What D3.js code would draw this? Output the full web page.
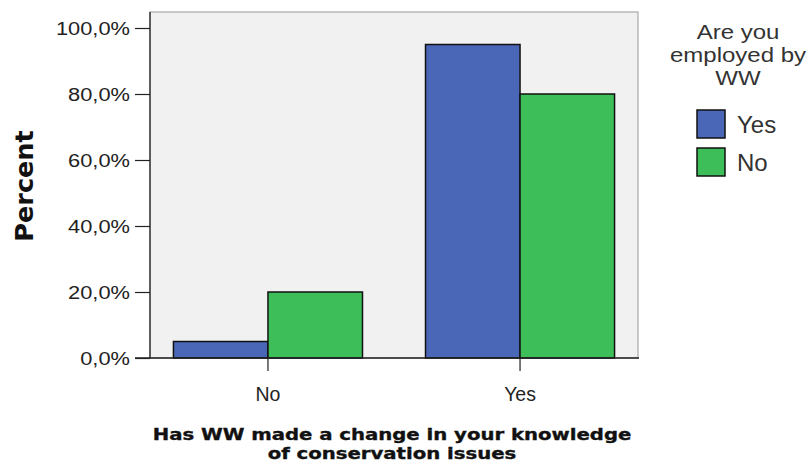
<!DOCTYPE html>
<html>
<head>
<meta charset="utf-8">
<script src="https://cdn.jsdelivr.net/npm/d3@7"></script>
<style>
  html, body { margin: 0; padding: 0; background: #ffffff; }
  svg { display: block; }
</style>
</head>
<body>
<svg id="chart" width="811" height="466"></svg>
<script>
// ---- data ----
const categories = ["No", "Yes"];                 // Has WW made a change ...
const seriesNames = ["Yes", "No"];                // Are you employed by WW
const employedYes = [5.0, 95.0];
const employedNo = [20.0, 80.0];
const yTicks = [0, 20, 40, 60, 80, 100];
const seriesColors = ["#4a66b6", "#3dbe58"];
const xTitleLines = ["Has WW made a change in your knowledge", "of conservation issues"];
const yTitle = "Percent";
const legendTitleLines = ["Are you", "employed by", "WW"];

const values = [employedYes, employedNo];
const SANS = "'Liberation Sans', Arial, Helvetica, sans-serif";
const BOLD = "'DejaVu Sans', Verdana, sans-serif";

const svg = d3.select("#chart");
const plot = { left: 150, right: 638, top: 12, bottom: 358 };

const x = d3.scaleBand().domain(categories).range([plot.left, plot.right])
  .paddingInner(0.25).paddingOuter(0.093);
const xs = d3.scaleBand().domain(seriesNames).range([0, x.bandwidth()]).padding(0);
const y = d3.scaleLinear().domain([0, 100]).range([358, 28]);
const color = d3.scaleOrdinal().domain(seriesNames).range(seriesColors);

const loc = d3.formatLocale({ decimal: ",", thousands: ".", grouping: [3], currency: ["", ""] });
const fmt = v => loc.format(".1f")(v) + "%";

// plot background + frame
svg.append("rect")
  .attr("x", plot.left).attr("y", plot.top)
  .attr("width", plot.right - plot.left).attr("height", plot.bottom - plot.top)
  .attr("fill", "#f1f1f1").attr("stroke", "#a8a8a8").attr("stroke-width", 1.2);

// bars
const groups = svg.append("g").selectAll("g")
  .data(categories).join("g")
  .attr("transform", d => `translate(${x(d)},0)`);

groups.selectAll("rect")
  .data((c, ci) => seriesNames.map((s, si) => ({ s, v: values[si][ci] })))
  .join("rect")
  .attr("x", d => xs(d.s))
  .attr("width", xs.bandwidth())
  .attr("y", d => y(d.v))
  .attr("height", d => y(0) - y(d.v))
  .attr("fill", d => color(d.s))
  .attr("stroke", "#111")
  .attr("stroke-width", 1.5);

// y axis
const yAxis = svg.append("g")
  .attr("transform", `translate(${plot.left},0)`)
  .call(d3.axisLeft(y).tickValues(yTicks).tickFormat(fmt).tickSize(15).tickPadding(5));
yAxis.attr("font-family", SANS);
yAxis.select(".domain").remove();
yAxis.selectAll(".tick line").attr("stroke", "#222").attr("stroke-width", 1.2);
yAxis.selectAll(".tick text")
  .attr("x", null)
  .attr("transform", "translate(-20,0) scale(1.15,1)")
  .style("font-family", SANS)
  .attr("font-size", 19)
  .attr("fill", "#222");

// x axis
const xAxis = svg.append("g")
  .attr("transform", `translate(0,${plot.bottom})`)
  .call(d3.axisBottom(x).tickSize(13).tickPadding(16));
xAxis.attr("font-family", SANS);
xAxis.select(".domain").remove();
xAxis.selectAll(".tick line").attr("stroke", "#222").attr("stroke-width", 1.2);
xAxis.selectAll(".tick text")
  .style("font-family", SANS)
  .attr("font-size", 19.5)
  .attr("fill", "#222");

// axis lines (left + bottom)
svg.append("line").attr("x1", plot.left).attr("x2", plot.left)
  .attr("y1", plot.top).attr("y2", plot.bottom)
  .attr("stroke", "#222").attr("stroke-width", 1.3);
svg.append("line").attr("x1", 135).attr("x2", plot.right + 1)
  .attr("y1", plot.bottom).attr("y2", plot.bottom)
  .attr("stroke", "#222").attr("stroke-width", 1.3);

// y title
svg.append("text")
  .attr("transform", `translate(33,186) rotate(-90)`)
  .attr("text-anchor", "middle")
  .style("font-family", BOLD)
  .attr("font-weight", "bold")
  .attr("font-size", 25.5)
  .attr("fill", "#111")
  .text(yTitle);

// x title
svg.append("g").selectAll("text")
  .data(xTitleLines).join("text")
  .attr("transform", (d, i) => `translate(392,${440 + i * 19}) scale(1.23,1)`)
  .attr("text-anchor", "middle")
  .style("font-family", BOLD)
  .attr("font-weight", "bold")
  .attr("font-size", 16)
  .attr("fill", "#111")
  .attr("stroke", "#111")
  .attr("stroke-width", 0.35)
  .text(d => d);

// legend
const legend = svg.append("g");
legend.selectAll("text.title")
  .data(legendTitleLines).join("text")
  .attr("class", "title")
  .attr("transform", (d, i) => `translate(738,${39 + i * 23}) scale(1.2,1)`)
  .attr("text-anchor", "middle")
  .style("font-family", SANS)
  .attr("font-size", 20)
  .attr("fill", "#333")
  .text(d => d);

const items = legend.selectAll("g.item")
  .data(seriesNames).join("g")
  .attr("class", "item")
  .attr("transform", (d, i) => `translate(697,${110 + i * 38})`);
items.append("rect")
  .attr("width", 28).attr("height", 28)
  .attr("fill", d => color(d))
  .attr("stroke", "#111").attr("stroke-width", 1.5);
items.append("text")
  .attr("x", 40).attr("y", 23)
  .style("font-family", SANS)
  .attr("font-size", 24)
  .attr("fill", "#333")
  .text(d => d);
</script>
</body>
</html>
